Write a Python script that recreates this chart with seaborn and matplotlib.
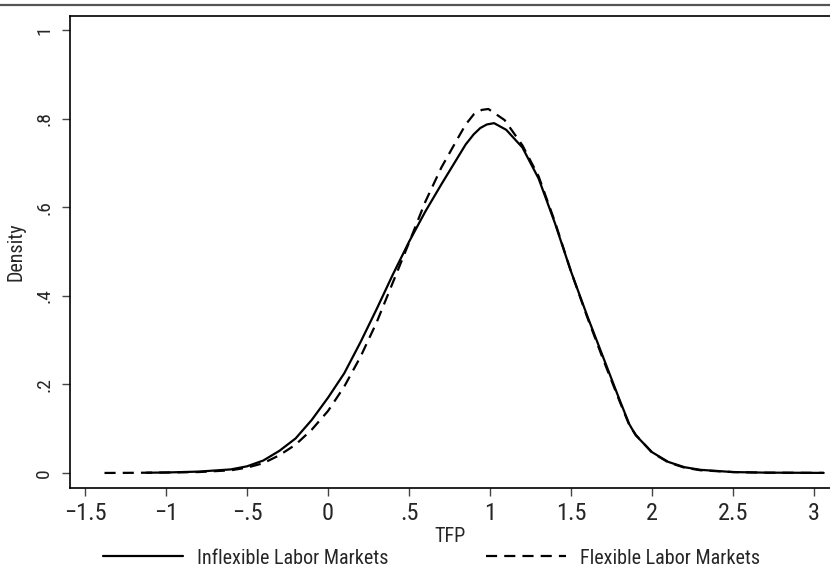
import matplotlib
matplotlib.use("Agg")
from matplotlib import pyplot as plt
from matplotlib.lines import Line2D
import seaborn as sns
import pandas as pd

# kernel density of TFP
inflex_x = [-1.12, -1.0, -0.8, -0.6, -0.5, -0.4, -0.3, -0.2, -0.1, 0.0, 0.1, 0.2,
            0.3, 0.4, 0.5, 0.6, 0.7, 0.8, 0.85, 0.9, 0.94, 0.98, 1.025, 1.1, 1.2,
            1.3, 1.35, 1.4, 1.5, 1.6, 1.7, 1.8, 1.86, 1.9, 2.0, 2.1, 2.2, 2.3, 2.5,
            2.7, 3.06]
inflex_y = [0.0005, 0.001, 0.003, 0.008, 0.015, 0.028, 0.05, 0.078, 0.12, 0.17, 0.225,
            0.295, 0.37, 0.448, 0.522, 0.59, 0.652, 0.712, 0.742, 0.765, 0.779, 0.787,
            0.79, 0.775, 0.735, 0.665, 0.615, 0.565, 0.455, 0.355, 0.26, 0.165, 0.11,
            0.085, 0.047, 0.025, 0.013, 0.007, 0.002, 0.0007, 0.0001]

flex_x = [-1.38, -1.2, -1.0, -0.8, -0.6, -0.5, -0.4, -0.3, -0.2, -0.1, 0.0, 0.1, 0.2,
          0.3, 0.4, 0.5, 0.6, 0.7, 0.8, 0.85, 0.9, 0.95, 0.99, 1.09, 1.2, 1.3, 1.4,
          1.5, 1.6, 1.7, 1.8, 1.86, 1.9, 2.0, 2.1, 2.2, 2.3, 2.5, 2.7, 3.06]
flex_y = [0.0, 0.0003, 0.001, 0.002, 0.006, 0.012, 0.022, 0.04, 0.064, 0.098, 0.14,
          0.195, 0.262, 0.34, 0.43, 0.52, 0.612, 0.69, 0.755, 0.787, 0.81, 0.82,
          0.822, 0.797, 0.74, 0.67, 0.568, 0.455, 0.352, 0.255, 0.162, 0.108, 0.086,
          0.046, 0.024, 0.012, 0.006, 0.002, 0.0006, 0.0001]

x_ticks = [-1.5, -1, -0.5, 0, 0.5, 1, 1.5, 2, 2.5, 3]
x_tick_labels = ["\u22121.5", "\u22121", "\u2212.5", "0", ".5", "1", "1.5", "2", "2.5", "3"]
y_ticks = [0, 0.2, 0.4, 0.6, 0.8, 1]
y_tick_labels = ["0", ".2", ".4", ".6", ".8", "1"]

sns.set_theme(style="white")
plt.rcParams['font.family'] = ['Roboto Condensed', 'DejaVu Sans']

fig = plt.figure(figsize=(8.3, 5.74), dpi=100)
ax = fig.add_axes([70 / 830, 1 - 488 / 574, 760 / 830, 472 / 574])

df_in = pd.DataFrame({'TFP': inflex_x, 'Density': inflex_y})
df_fl = pd.DataFrame({'TFP': flex_x, 'Density': flex_y})
sns.lineplot(data=df_in, x='TFP', y='Density', ax=ax, color='black', lw=1.6,
             label='Inflexible Labor Markets')
sns.lineplot(data=df_fl, x='TFP', y='Density', ax=ax, color='black', lw=1.6,
             linestyle=(0, (5, 3.2)), label='Flexible Labor Markets')

ax.set_xlim(-1.593, 3.099)
ax.set_ylim(-0.034, 1.032)

for s in ['left', 'bottom', 'top']:
    ax.spines[s].set_color('black')
    ax.spines[s].set_linewidth(1.2)
ax.spines['right'].set_visible(False)

ax.set_xticks(x_ticks, x_tick_labels)
ax.set_yticks(y_ticks, y_tick_labels, rotation=90, va='center')
ax.tick_params(axis='x', bottom=True, labelsize=17.5, length=6, width=1, color='#444', pad=4)
ax.tick_params(axis='y', left=True, labelsize=14, length=6, width=1, color='#444', pad=6)

ax.set_xlabel('TFP', fontsize=14.5)
ax.xaxis.set_label_coords(0.5, -0.082)
ax.set_ylabel('Density', fontsize=14.5)
ax.yaxis.set_label_coords(-0.059, 0.5)

handles, labels = ax.get_legend_handles_labels()
ax.get_legend().remove()
fig.legend(handles, labels, loc='center', bbox_to_anchor=(0.52, 1 - 558 / 574),
           ncol=2, frameon=False, fontsize=14.5, handlelength=4.0,
           handletextpad=0.7, columnspacing=4.8)

# grey rule across the top
fig.add_artist(Line2D([0, 1], [1 - 5 / 574, 1 - 5 / 574], color='#555555', lw=1.6,
                      transform=fig.transFigure))

fig.savefig('out.png', dpi=100)
